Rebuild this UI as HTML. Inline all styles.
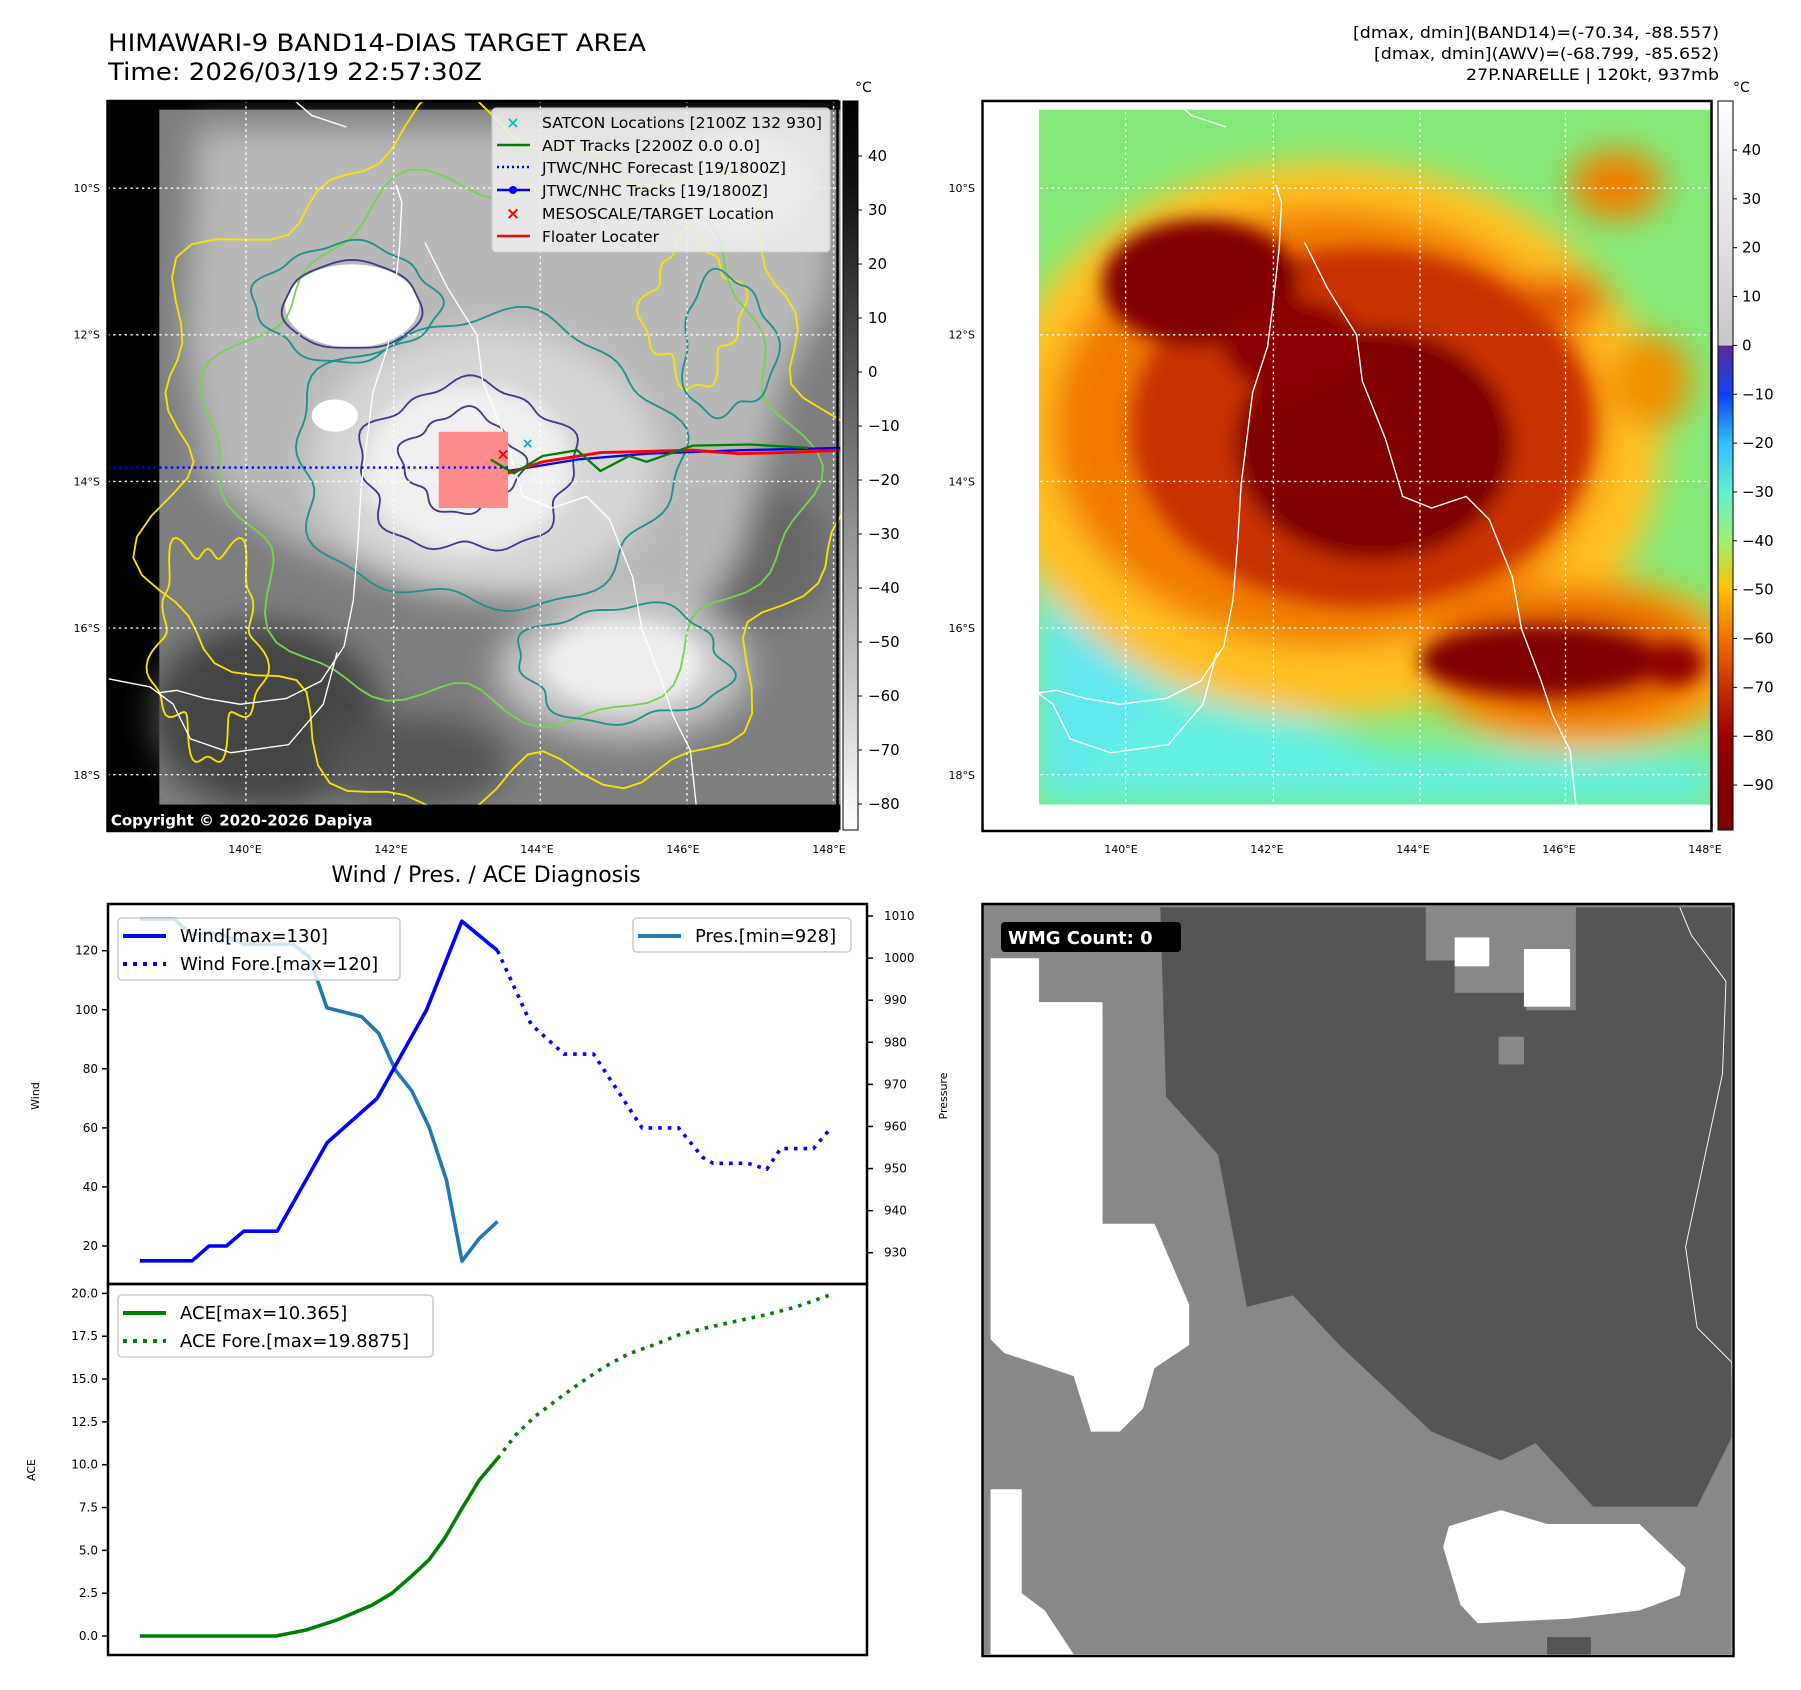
<!DOCTYPE html>
<html><head><meta charset="utf-8"><style>
html,body{margin:0;padding:0;background:#fff;}
svg{display:block;font-family:"DejaVu Sans","Liberation Sans",sans-serif;}
</style></head><body>
<svg id="root" width="1801" height="1690" viewBox="0 0 1801 1690" xmlns="http://www.w3.org/2000/svg">
<defs>
  <filter id="b8" x="-30%" y="-30%" width="160%" height="160%"><feGaussianBlur stdDeviation="8"/></filter>
  <filter id="b4" x="-30%" y="-30%" width="160%" height="160%"><feGaussianBlur stdDeviation="4"/></filter>
  <filter id="b14" x="-30%" y="-30%" width="160%" height="160%"><feGaussianBlur stdDeviation="14"/></filter>
  <clipPath id="clipL"><rect x="93" y="87" width="635" height="632"/></clipPath>
  <clipPath id="clipR"><rect x="851" y="87" width="632" height="632"/></clipPath>
  <clipPath id="clipRd"><rect x="900" y="95" width="585" height="602"/></clipPath>
  <clipPath id="clipB"><rect x="851" y="782" width="651" height="651"/></clipPath>
  <linearGradient id="cbL" x1="0" y1="0" x2="0" y2="1">
    <stop offset="0" stop-color="#000"/><stop offset="0.12" stop-color="#111"/><stop offset="0.5" stop-color="#7a7a7a"/><stop offset="1" stop-color="#fff"/>
  </linearGradient>
  <linearGradient id="cbR" x1="0" y1="0" x2="0" y2="1">
    <stop offset="0" stop-color="#fff"/><stop offset="0.335" stop-color="#c8c8c8"/>
    <stop offset="0.336" stop-color="#5a2a9a"/><stop offset="0.402" stop-color="#1040f0"/>
    <stop offset="0.469" stop-color="#30c0ff"/><stop offset="0.536" stop-color="#60f0d0"/>
    <stop offset="0.603" stop-color="#a0f070"/><stop offset="0.67" stop-color="#ffc000"/>
    <stop offset="0.737" stop-color="#f07000"/><stop offset="0.804" stop-color="#c83000"/>
    <stop offset="0.87" stop-color="#a00000"/><stop offset="0.938" stop-color="#800000"/><stop offset="1" stop-color="#800000"/>
  </linearGradient>
</defs>

<!-- titles -->
<text x="108" y="51" font-size="24" textLength="538" lengthAdjust="spacingAndGlyphs" fill="#000">HIMAWARI-9 BAND14-DIAS TARGET AREA</text>
<text x="108" y="80" font-size="24" textLength="374" lengthAdjust="spacingAndGlyphs" fill="#000">Time: 2026/03/19 22:57:30Z</text>
<g font-size="16" fill="#000">
  <text x="1353" y="38" textLength="366" lengthAdjust="spacingAndGlyphs">[dmax, dmin](BAND14)=(-70.34, -88.557)</text>
  <text x="1374" y="59" textLength="345" lengthAdjust="spacingAndGlyphs">[dmax, dmin](AWV)=(-68.799, -85.652)</text>
  <text x="1466" y="80" textLength="253" lengthAdjust="spacingAndGlyphs">27P.NARELLE | 120kt, 937mb</text>
</g>

<!-- ===== maps in view-scaled coords ===== -->
<g transform="scale(1.1545)">
  <!-- LEFT MAP -->
  <g clip-path="url(#clipL)">
    <rect x="93" y="87" width="635" height="632" fill="#000"/>
    <rect x="138" y="95" width="590" height="602" fill="#7e7e7e"/>
    <g filter="url(#b14)">
      <ellipse cx="230" cy="620" rx="100" ry="80" fill="#454545"/>
      <ellipse cx="360" cy="660" rx="80" ry="40" fill="#555"/>
      <ellipse cx="650" cy="480" rx="70" ry="60" fill="#666"/>
      <path d="M170,110 L720,110 L720,250 L680,330 L640,480 L600,540 L470,520 L360,510 L250,470 L180,420 L160,300 Z" fill="#b8b8b8"/>
      <ellipse cx="420" cy="400" rx="150" ry="115" fill="#d6d6d6"/>
      <ellipse cx="540" cy="580" rx="110" ry="60" fill="#c8c8c8"/>
    </g>
    <g filter="url(#b8)">
      <ellipse cx="405" cy="405" rx="90" ry="72" fill="#f0f0f0"/>
      <ellipse cx="540" cy="575" rx="70" ry="38" fill="#eee"/>
      <ellipse cx="640" cy="160" rx="60" ry="45" fill="#e0e0e0"/>
    </g>
    <ellipse cx="305" cy="265" rx="58" ry="36" fill="#fff"/>
    <ellipse cx="290" cy="360" rx="20" ry="14" fill="#fff"/>
    <g id="contoursL" fill="none" stroke-width="1.6"></g>
    <path id="coastL" d="M343,160 L348,175 L346,215 L341,260 L336,300 L323,340 L318,380 L313,420 L310,470 L306,520 L298,560 L278,590 L248,605 L208,610 L178,605 L153,598 L138,600 M368,210 L388,250 L413,290 L418,330 L438,380 L453,430 L478,440 L508,430 L528,450 L548,500 L556,545 L573,590 L583,620 L598,650 L603,697 M255,87 L270,100 L300,110 M94,588 L130,595 L150,610 L165,640 L200,652 L250,645 L280,610 L292,565" fill="none" stroke="#fff" stroke-width="1.2"/>
    <g stroke="#fff" stroke-width="1.2" stroke-dasharray="2 3">
      <line x1="213" y1="87" x2="213" y2="719"/><line x1="341" y1="87" x2="341" y2="719"/><line x1="468" y1="87" x2="468" y2="719"/><line x1="595" y1="87" x2="595" y2="719"/><line x1="722" y1="87" x2="722" y2="719"/>
      <line x1="93" y1="163" x2="728" y2="163"/><line x1="93" y1="290" x2="728" y2="290"/><line x1="93" y1="417" x2="728" y2="417"/><line x1="93" y1="544" x2="728" y2="544"/><line x1="93" y1="671" x2="728" y2="671"/>
    </g>
    <rect x="380" y="374" width="60" height="66" fill="#ff8a8a"/>
    <line x1="93" y1="405" x2="440" y2="405" stroke="#0000ff" stroke-width="2" stroke-dasharray="2 3"/>
    <polyline points="440,408 500,398 560,393 640,390 728,388" fill="none" stroke="#0000ff" stroke-width="2"/>
    <polyline points="440,410 470,400 520,392 600,390 640,393 680,392 728,390" fill="none" stroke="#ff0000" stroke-width="2.5"/>
    <polyline points="425,398 445,410 470,395 500,390 520,408 545,395 560,400 600,386 650,385 700,388" fill="none" stroke="#008000" stroke-width="2"/>
    <text x="430" y="398" font-size="14" fill="#ff0000" font-weight="bold">×</text>
    <text x="452" y="388" font-size="12" fill="#00b0b0" font-weight="bold">×</text>
    <rect x="94" y="697" width="634" height="26" fill="#000"/>
    <text x="96" y="715" font-size="13" font-weight="bold" fill="#fff">Copyright © 2020-2026 Dapiya</text>
  </g>

  <!-- RIGHT MAP -->
  <g clip-path="url(#clipR)">
    <rect x="851" y="87" width="632" height="632" fill="#fff"/>
    <g clip-path="url(#clipRd)">
    <rect x="900" y="95" width="585" height="602" fill="#84e878"/>
    <g filter="url(#b14)">
      <path d="M900,470 L980,520 L1080,600 L1200,650 L1485,655 L1485,697 L900,697 Z" fill="#62f0e0"/>
      <path d="M900,520 L960,560 L1000,610 L900,697 Z" fill="#60e8f0"/>
      <ellipse cx="1150" cy="380" rx="290" ry="240" fill="#ffc020"/>
      <ellipse cx="1370" cy="575" rx="140" ry="75" fill="#ffa010"/>
      <ellipse cx="1150" cy="370" rx="240" ry="190" fill="#f07a00"/>
      <ellipse cx="1360" cy="570" rx="120" ry="55" fill="#e06000"/>
      <ellipse cx="1400" cy="160" rx="40" ry="30" fill="#f08000"/>
      <ellipse cx="1430" cy="330" rx="35" ry="40" fill="#f09000"/>
      <ellipse cx="1350" cy="260" rx="40" ry="20" fill="#e05000"/>
    </g>
    <g filter="url(#b8)">
      <ellipse cx="1180" cy="370" rx="200" ry="155" fill="#c83000"/>
      <ellipse cx="1040" cy="245" rx="85" ry="55" fill="#800000"/>
      <ellipse cx="1190" cy="385" rx="120" ry="100" fill="#800000"/>
      <ellipse cx="1120" cy="300" rx="60" ry="40" fill="#8a0000"/>
      <ellipse cx="1335" cy="572" rx="105" ry="30" fill="#800000"/>
      <ellipse cx="1450" cy="575" rx="25" ry="18" fill="#900000"/>
    </g>
    </g>
    <use href="#coastL" transform="translate(762,0)"/>
    <g stroke="#fff" stroke-width="1.2" stroke-dasharray="2 3">
      <line x1="975" y1="87" x2="975" y2="719"/><line x1="1103" y1="87" x2="1103" y2="719"/><line x1="1230" y1="87" x2="1230" y2="719"/><line x1="1356" y1="87" x2="1356" y2="719"/><line x1="1483" y1="87" x2="1483" y2="719"/>
      <line x1="851" y1="163" x2="1483" y2="163"/><line x1="851" y1="290" x2="1483" y2="290"/><line x1="851" y1="417" x2="1483" y2="417"/><line x1="851" y1="544" x2="1483" y2="544"/><line x1="851" y1="671" x2="1483" y2="671"/>
    </g>
  </g>

  <!-- BOTTOM RIGHT -->
  <g clip-path="url(#clipB)">
    <rect x="851" y="782" width="651" height="651" fill="#888"/>
    <path d="M1005,786 L1235,786 L1235,832 L1260,832 L1260,860 L1322,860 L1322,875 L1365,875 L1365,786 L1500,786 L1500,1245 L1470,1305 L1380,1305 L1330,1250 L1300,1265 L1240,1240 L1160,1165 L1120,1122 L1080,1132 L1055,1000 L1010,950 Z" fill="#555"/>
    <path d="M858,830 L900,830 L900,868 L955,868 L955,1060 L1000,1060 L1030,1130 L1030,1165 L1000,1185 L990,1220 L970,1240 L945,1240 L930,1192 L870,1172 L858,1160 Z" fill="#fff"/>
    <path d="M1255,1322 L1300,1308 L1340,1320 L1420,1320 L1460,1358 L1455,1382 L1420,1395 L1360,1402 L1280,1406 L1265,1390 L1250,1340 Z" fill="#fff"/>
    <path d="M858,1290 L885,1290 L885,1380 L905,1395 L930,1433 L858,1433 Z" fill="#fff"/>
    <rect x="1260" y="812" width="30" height="25" fill="#fff"/>
    <rect x="1320" y="822" width="40" height="50" fill="#fff"/>
    <rect x="1298" y="898" width="22" height="24" fill="#888"/>
    <rect x="1340" y="1418" width="38" height="15" fill="#555"/>
    <rect x="1500" y="786" width="9" height="650" fill="#fff"/>
    <path d="M1455,786 L1465,810 L1495,850 L1492,930 L1460,1080 L1470,1150 L1500,1180 L1502,1260" fill="none" stroke="#fff" stroke-width="0.8"/>
  </g>
</g>

<rect x="107.5" y="101" width="730" height="730" fill="none" stroke="#000" stroke-width="2.5"/>
<rect x="982.5" y="101" width="729" height="730" fill="none" stroke="#000" stroke-width="2.5"/>
<rect x="982.5" y="904" width="751" height="752" fill="none" stroke="#000" stroke-width="2.5"/>
<rect x="1001" y="922" width="180" height="30" rx="4" fill="#000"/>
<text x="1008" y="944" font-size="18" font-weight="bold" fill="#fff">WMG Count: 0</text>

<!-- map legend -->
<g>
  <rect x="492" y="108" width="338" height="144" rx="4" fill="#efefef" fill-opacity="0.85" stroke="#ccc"/>
  <g font-size="15" fill="#000">
    <text x="542" y="128" textLength="280" lengthAdjust="spacingAndGlyphs">SATCON Locations [2100Z 132 930]</text>
    <text x="542" y="151" textLength="218" lengthAdjust="spacingAndGlyphs">ADT Tracks [2200Z 0.0 0.0]</text>
    <text x="542" y="173" textLength="244" lengthAdjust="spacingAndGlyphs">JTWC/NHC Forecast [19/1800Z]</text>
    <text x="542" y="196" textLength="226" lengthAdjust="spacingAndGlyphs">JTWC/NHC Tracks [19/1800Z]</text>
    <text x="542" y="219" textLength="232" lengthAdjust="spacingAndGlyphs">MESOSCALE/TARGET Location</text>
    <text x="542" y="242" textLength="117" lengthAdjust="spacingAndGlyphs">Floater Locater</text>
  </g>
  <text x="513" y="128" font-size="16" font-weight="bold" fill="#10c0c0" text-anchor="middle">×</text>
  <line x1="497" y1="145" x2="530" y2="145" stroke="#008000" stroke-width="2.5"/>
  <line x1="497" y1="167" x2="530" y2="167" stroke="#0000ff" stroke-width="2.5" stroke-dasharray="2 3"/>
  <line x1="497" y1="190" x2="530" y2="190" stroke="#0000ff" stroke-width="2.5"/><circle cx="513" cy="190" r="4" fill="#0000ff"/>
  <text x="513" y="219" font-size="17" font-weight="bold" fill="#f00" text-anchor="middle">×</text>
  <line x1="497" y1="236" x2="530" y2="236" stroke="#f00" stroke-width="2.5"/>
</g>

<!-- colorbars -->
<rect x="843" y="101" width="15" height="729" fill="url(#cbL)" stroke="#000" stroke-width="1"/>
<rect x="1718" y="101" width="15" height="729" fill="url(#cbR)" stroke="#000" stroke-width="1"/>
<text x="855" y="92" font-size="14">°C</text>
<text x="1733" y="92" font-size="14">°C</text>
<g id="cbticks" font-size="15"></g>
<g id="mapticks" font-size="11"></g>

<!-- chart -->
<text x="486" y="882" font-size="22" text-anchor="middle">Wind / Pres. / ACE Diagnosis</text>
<g id="chart"></g>
</svg>

<script>
// ===== chart data =====
const windTimes = [0, 3.02, 4, 5, 6, 7.93, 10.82, 13.7, 16.56, 18.59, 20.66];
const windValues = [15, 15, 20, 20, 25, 25, 55, 70, 100, 130, 120];
const windForeTimes = [20.66, 22.6, 24.5, 26.2, 29, 31.1, 32.5, 33.1, 35.1, 36.2, 37, 38.9, 39.9];
const windForeValues = [120, 95, 85, 85, 60, 60, 50, 48, 48, 46, 53, 53, 60];
const presTimes = [0, 1.97, 3, 4, 5, 6, 8.85, 9.8, 10.8, 12.8, 13.8, 14.75, 15.7, 16.7, 17.7, 18.6, 19.6, 20.65];
const presValues = [1009.3, 1009.3, 1005.5, 1006.1, 1005.2, 1003.3, 1003.3, 1000.2, 988.2, 986.1, 982.1, 973.4, 968.5, 959.9, 947.3, 928, 933.4, 937.4];
const aceTimes = [0, 7.87, 9.6, 11.36, 13.4, 14.56, 15.7, 16.7, 17.6, 18.6, 19.6, 20.66];
const aceValues = [0, 0, 0.35, 0.93, 1.8, 2.5, 3.5, 4.45, 5.7, 7.45, 9.1, 10.365];
const aceForeTimes = [20.66, 21.7, 22.8, 24.1, 25.4, 26.8, 28.2, 29.7, 31.1, 32.6, 34.3, 36.1, 37.8, 39.8];
const aceForeValues = [10.365, 11.73, 12.8, 13.8, 14.75, 15.7, 16.46, 17.0, 17.57, 17.96, 18.35, 18.74, 19.18, 19.89];
const windTicks = [20, 40, 60, 80, 100, 120];
const presTicks = [930, 940, 950, 960, 970, 980, 990, 1000, 1010];
const aceTicks = [0, 2.5, 5, 7.5, 10, 12.5, 15, 17.5, 20];
const irCbTicks = [40, 30, 20, 10, 0, -10, -20, -30, -40, -50, -60, -70, -80];
const awvCbTicks = [40, 30, 20, 10, 0, -10, -20, -30, -40, -50, -60, -70, -80, -90];
const lonLabels = ['140°E', '142°E', '144°E', '146°E', '148°E'];
const latLabels = ['10°S', '12°S', '14°S', '16°S', '18°S'];

const NS = 'http://www.w3.org/2000/svg';
function mk(tag, attrs, parent) {
  const e = document.createElementNS(NS, tag);
  for (const k in attrs) e.setAttribute(k, attrs[k]);
  parent.appendChild(e);
  return e;
}
const xs = t => 139.8 + 17.32 * t;
const yw = v => 950.7 + (120 - v) * 2.953;
const yp = p => 916 + (1010 - p) * 4.209;
const ya = a => 1636 - a * 17.13;

const chart = document.getElementById('chart');
function series(times, vals, yf, color, dashed, name) {
  const pts = times.map((t, i) => xs(t).toFixed(1) + ',' + yf(vals[i]).toFixed(1)).join(' ');
  const a = {points: pts, fill: 'none', stroke: color, 'stroke-width': 3.6, 'stroke-linejoin': 'round'};
  if (dashed) a['stroke-dasharray'] = '3.6 6';
  const el = mk('polyline', a, chart);
  
  
}
let f1 = mk('rect', {x: 108, y: 904, width: 759, height: 380, fill: 'none', stroke: '#000', 'stroke-width': 2.5}, chart);


let f2 = mk('rect', {x: 108, y: 1284, width: 759, height: 371, fill: 'none', stroke: '#000', 'stroke-width': 2.5}, chart);



series(presTimes, presValues, yp, '#1f77b4', false, 'pressure-line');
series(windTimes, windValues, yw, '#0000ff', false, 'wind-line');
series(windForeTimes, windForeValues, yw, '#0000ff', true, 'wind-forecast-line');
series(aceTimes, aceValues, ya, '#008000', false, 'ace-line');
series(aceForeTimes, aceForeValues, ya, '#008000', true, 'ace-forecast-line');

function tickL(y, label, name) {
  mk('line', {x1: 102, y1: y, x2: 108, y2: y, stroke: '#000', 'stroke-width': 1.5}, chart);
  const t = mk('text', {x: 98, y: y + 4, 'font-size': 12, 'text-anchor': 'end'}, chart);
  t.textContent = label;
  
  
}
windTicks.forEach(v => tickL(yw(v), String(v), 'wind-tick-label'));
aceTicks.forEach(v => tickL(ya(v), v.toFixed(1), 'ace-tick-label'));
presTicks.forEach(p => {
  const y = yp(p);
  mk('line', {x1: 867, y1: y, x2: 873, y2: y, stroke: '#000', 'stroke-width': 1.5}, chart);
  const t = mk('text', {x: 884, y: y + 4, 'font-size': 12}, chart);
  t.textContent = String(p);
  
  
});
function rotLabel(x, y, label, name) {
  const t = mk('text', {x: x, y: y, 'font-size': 11, 'text-anchor': 'middle', transform: 'rotate(-90 ' + x + ' ' + y + ')'}, chart);
  t.textContent = label;
  
  
}
rotLabel(39, 1096, 'Wind', 'wind-axis-title');
rotLabel(947, 1096, 'Pressure', 'pressure-axis-title');
rotLabel(35, 1470, 'ACE', 'ace-axis-title');

function legend(x, y, w, h, entries, name) {
  const g = mk('g', {}, chart);
  
  
  mk('rect', {x: x, y: y, width: w, height: h, rx: 4, fill: '#fff', 'fill-opacity': 0.8, stroke: '#ccc', 'stroke-width': 1.5}, g);
  entries.forEach((e, i) => {
    const cy = y + 18 + i * 28;
    const la = {x1: x + 5, y1: cy, x2: x + 48, y2: cy, stroke: e[1], 'stroke-width': 4};
    if (e[2]) la['stroke-dasharray'] = '4 6';
    mk('line', la, g);
    const t = mk('text', {x: x + 62, y: cy + 6, 'font-size': 18}, g);
    t.textContent = e[0];
  });
}
legend(118, 918, 282, 62, [['Wind[max=130]', '#0000ff', false], ['Wind Fore.[max=120]', '#0000ff', true]], 'wind-legend');
legend(633, 918, 218, 34, [['Pres.[min=928]', '#1f77b4', false]], 'pressure-legend');
legend(118, 1295, 315, 62, [['ACE[max=10.365]', '#008000', false], ['ACE Fore.[max=19.8875]', '#008000', true]], 'ace-legend');

const cbg = document.getElementById('cbticks');
irCbTicks.forEach(v => {
  const y = 156 + (40 - v) * 5.4;
  mk('line', {x1: 858, y1: y, x2: 862, y2: y, stroke: '#000'}, cbg);
  const t = mk('text', {x: 868, y: y + 5}, cbg);
  t.textContent = v < 0 ? '\u2212' + (-v) : String(v);
  
  
});
awvCbTicks.forEach(v => {
  const y = 150 + (40 - v) * 4.885;
  mk('line', {x1: 1733, y1: y, x2: 1737, y2: y, stroke: '#000'}, cbg);
  const t = mk('text', {x: 1742, y: y + 5}, cbg);
  t.textContent = v < 0 ? '\u2212' + (-v) : String(v);
  
  
});
const mtg = document.getElementById('mapticks');
lonLabels.forEach((s, i) => {
  [245, 1121].forEach(x0 => {
    const t = mk('text', {x: x0 + i * 146, y: 853, 'text-anchor': 'middle'}, mtg);
    t.textContent = s;
    
    
  });
});
latLabels.forEach((s, i) => {
  [100, 975].forEach(x0 => {
    const t = mk('text', {x: x0, y: 192 + i * 146.7, 'text-anchor': 'end'}, mtg);
    t.textContent = s;
    
    
  });
});
const cg = document.getElementById('contoursL');
function wig(cx, cy, rx, ry, amp, k, ph) {
  let d = '';
  for (let i = 0; i <= 120; i++) {
    const a = i / 120 * Math.PI * 2;
    const r = 1 + amp * Math.sin(k * a + ph) + amp * 0.6 * Math.sin((k * 2 + 1) * a + ph * 2);
    d += (i ? 'L' : 'M') + (cx + rx * r * Math.cos(a)).toFixed(1) + ',' + (cy + ry * r * Math.sin(a)).toFixed(1);
  }
  return d + 'Z';
}
[[430, 400, 295, 290, 0.08, 7, 1, '#f5e400'], [180, 560, 45, 90, 0.15, 5, 0, '#f5e400'], [600, 270, 40, 60, 0.15, 4, 2, '#f5e400'],
 [440, 390, 250, 230, 0.07, 6, 0.5, '#7ad151'], [420, 400, 165, 125, 0.06, 5, 2, '#21918c'], [300, 262, 78, 50, 0.06, 4, 1, '#21918c'],
 [540, 575, 90, 50, 0.08, 4, 0, '#21918c'], [630, 300, 40, 60, 0.1, 3, 1, '#21918c'],
 [405, 405, 92, 72, 0.07, 5, 3, '#3b3f8a'], [400, 400, 50, 42, 0.1, 4, 1, '#3b3f8a'], [305, 265, 60, 38, 0.03, 3, 0, '#3b3f8a']
].forEach(c => {
  const p = mk('path', {d: wig(c[0], c[1], c[2], c[3], c[4], c[5], c[6]), stroke: c[7]}, cg);
  
  
});
</script>
</body></html>
